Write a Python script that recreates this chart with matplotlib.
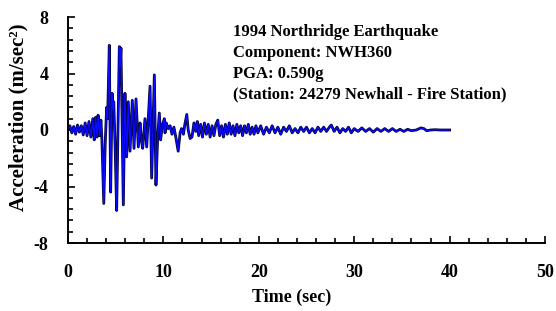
#!/usr/bin/env python3
"""Northridge 1994 accelerogram (NWH360) redrawn with matplotlib."""

import matplotlib
matplotlib.use("Agg")
import matplotlib.pyplot as plt
import matplotlib.patheffects as pe
from matplotlib.ticker import MultipleLocator

# time (sec) and acceleration (m/sec^2) vertices
time_s = [
    0.0, 0.2, 0.4, 0.6, 0.8, 1.0, 1.2, 1.4, 1.6, 1.8, 2.0, 2.2, 2.4, 2.6, 2.75,
    2.9, 3.05, 3.15, 3.3, 3.45, 3.55, 3.75, 3.9, 4.05, 4.15, 4.33, 4.47, 4.62,
    4.7, 4.8, 4.95, 5.1, 5.25, 5.38, 5.47, 5.55, 5.8, 5.97, 6.15, 6.32, 6.5,
    6.74, 6.92, 7.13, 7.37, 7.55, 7.7, 7.83, 8.07, 8.25, 8.6, 8.77, 9.05, 9.22,
    9.4, 9.57, 9.71, 9.9, 10.1, 10.17, 10.3, 10.5, 10.7, 10.9, 11.1, 11.3,
    11.55, 11.75, 11.9, 12.1, 12.25, 12.45, 12.6, 12.8, 13.0,
    13.2, 13.4, 13.55, 13.7, 13.9, 14.1, 14.3, 14.5, 14.7, 14.9, 15.1, 15.3,
    15.5, 15.7, 15.9, 16.1, 16.3, 16.5, 16.7, 16.9, 17.1, 17.3, 17.5, 17.7,
    17.9, 18.1, 18.3, 18.5, 18.7, 18.9, 19.1, 19.3, 19.5, 19.7, 19.9, 20.2,
    20.5, 20.8, 21.1, 21.4, 21.7, 22.0, 22.3, 22.6, 22.9, 23.2, 23.5, 23.8,
    24.1, 24.4, 24.7, 25.0, 25.3, 25.6, 25.9, 26.2, 26.5, 26.8, 27.1, 27.4,
    27.6, 27.9, 28.2, 28.5, 28.8, 29.1, 29.4, 29.7, 30.0, 30.4, 30.8, 31.2,
    31.6, 32.0, 32.4, 32.8, 33.2, 33.6, 34.0, 34.4, 34.8, 35.2, 35.6, 36.0,
    36.5, 37.0, 37.3, 37.6, 38.0, 38.5, 39.0, 40.0,
]
accel = [
    0.0, 0.3, -0.2, 0.25, -0.3, 0.35, -0.15, 0.3, -0.35, 0.5, -0.4, 0.6, -0.5,
    0.8, -0.7, 0.9, -0.5, 1.05, -0.4, 0.7, -0.6, -5.2, -1.0, 1.6, 0.8, 6.0,
    -4.4, 2.6, 1.5, 2.0, -1.5, -5.7, 0.5, 5.9, 4.5, 5.8, -5.3, 2.6, -1.9, 2.0,
    -1.5, 2.1, -1.3, 2.2, -1.2, 0.5, -0.8, -1.3, 0.8, -1.2, 3.1, -3.4, 3.9,
    -3.9, -0.5, 1.2, -0.7, 0.4, 0.8, -0.2, 0.5, 0.1, 0.3, -0.3, 0.2, -0.5,
    -1.5, -0.2, 0.1, -0.3, 0.4, 1.1, 0.0, -0.6, -0.5,
    0.5, -0.1, 0.6, -0.4, 0.4, -0.5, 0.5, -0.3, 0.4, -0.5, 0.3, -0.4,
    0.4, 0.7, -0.4, 0.3, -0.5, 0.4, -0.3, 0.5, -0.3, 0.3, -0.4, 0.4,
    -0.2, 0.3, -0.4, 0.3, -0.2, 0.4, -0.3, 0.2, -0.3, 0.3, -0.2, 0.3,
    -0.3, 0.2, -0.2, 0.3, -0.2, 0.2, -0.3, 0.2, -0.1, 0.3, -0.2, 0.1,
    -0.2, 0.2, -0.1, 0.2, -0.2, 0.1, -0.2, 0.2, -0.1, 0.2, -0.1, 0.2,
    0.35, -0.1, 0.2, -0.2, 0.1, -0.1, 0.2, -0.2, 0.1, -0.1, 0.15, -0.1,
    0.1, -0.15, 0.1, -0.1, 0.1, -0.1, 0.1, -0.1, 0.05, -0.1, 0.05, -0.05,
    0.0, 0.15, 0.1, -0.05, 0.0, 0.02, 0.0, 0.0,
]

info_lines = [
    "1994 Northridge Earthquake",
    "Component: NWH360",
    "PGA: 0.590g",
    "(Station: 24279 Newhall - Fire Station)",
]

plt.rcParams['font.family'] = ['Liberation Serif', 'DejaVu Serif']
plt.rcParams['font.weight'] = 'bold'
plt.rcParams['axes.unicode_minus'] = False

fig = plt.figure(figsize=(5.56, 3.11), dpi=100)
ax = fig.add_axes([68 / 556, 68 / 311, 477 / 556, 226 / 311])

ax.plot(time_s, accel, color='#0a0aff', lw=1.0,
        path_effects=[pe.Stroke(linewidth=2.0, foreground='#000033'), pe.Normal()])

ax.set_xlim(0, 50)
ax.set_ylim(-8, 8)
ax.xaxis.set_major_locator(MultipleLocator(10))
ax.xaxis.set_minor_locator(MultipleLocator(2))
ax.yaxis.set_major_locator(MultipleLocator(4))
ax.yaxis.set_minor_locator(MultipleLocator(0.8))

for side in ['top', 'right']:
    ax.spines[side].set_visible(False)
for side in ['left', 'bottom']:
    ax.spines[side].set_linewidth(1.4)

ax.tick_params(which='both', direction='in', width=1.2, labelsize=13)
ax.tick_params(which='major', length=5)
ax.tick_params(which='minor', length=3.5)
ax.tick_params(axis='x', which='major', pad=15)
ax.tick_params(axis='y', which='major', pad=14)
for lbl in ax.get_xticklabels() + ax.get_yticklabels():
    lbl.set_fontweight('bold')

ax.set_xlabel("Time (sec)", fontsize=13, fontweight='bold')
ax.xaxis.set_label_coords(0.468, -0.2)
ax.set_ylabel("Acceleration (m/sec²)", fontsize=15, fontweight='bold')
ax.yaxis.set_label_coords(-0.083, 0.557)

ax.text(0.346, 0.968, "\n".join(info_lines), transform=ax.transAxes,
        ha='left', va='top', fontsize=12, fontweight='bold', linespacing=1.4)

fig.savefig("out.png", dpi=100)
